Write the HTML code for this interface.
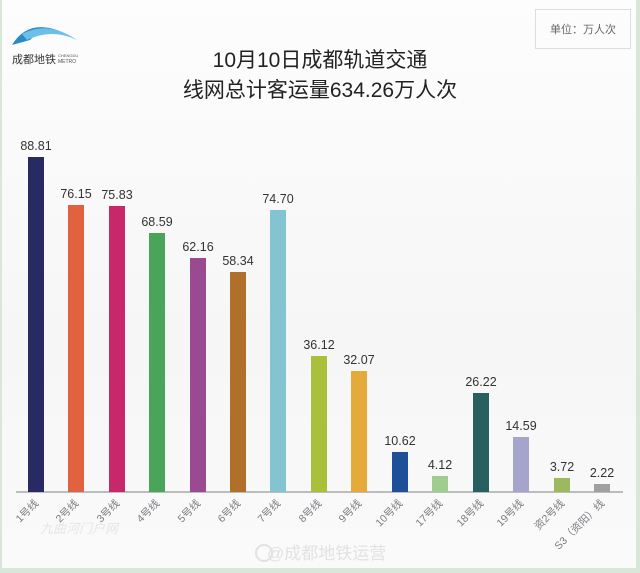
<!DOCTYPE html>
<html><head><meta charset="utf-8"><style>
body{margin:0;width:640px;height:573px;background:#d8e8d8;overflow:hidden}
#c{position:absolute;left:2px;top:0;width:634px;height:568px;background:linear-gradient(#fdfdfd,#f6f6f6 60%,#fafafa);font-family:"Liberation Sans","Noto Sans CJK SC",sans-serif}
</style></head><body><div id="c">
<svg width="634" height="568" xmlns="http://www.w3.org/2000/svg" font-family="Liberation Sans, Noto Sans CJK SC, sans-serif">
<path d="M10 45 Q30 12 75 40 Q45 22 28 40 Z" fill="#2a8ac8"/>
<path d="M20 34 Q45 20 75 40 Q50 28 25 40Z" fill="#6ac0e8"/>
<text x="10" y="63" font-size="11" fill="#333">成都地铁</text>
<text x="56" y="57" font-size="4" fill="#555">CHENGDU</text>
<text x="56" y="63" font-size="5" fill="#555">METRO</text>
<rect x="533.5" y="9.5" width="95" height="39" fill="none" stroke="#ddd"/>
<text x="581" y="33" font-size="11" fill="#666" text-anchor="middle">单位：万人次</text>
<text x="318" y="67" font-size="21" fill="#222" text-anchor="middle">10月10日成都轨道交通</text>
<text x="318" y="97" font-size="21" fill="#222" text-anchor="middle">线网总计客运量634.26万人次</text>
<line x1="14" y1="492" x2="621" y2="492" stroke="#999" stroke-width="1.2"/>
<g transform="translate(2,0)">
<rect x="24" y="157" width="16" height="335" fill="#272a63"/><text x="32" y="150" font-size="12.5" text-anchor="middle" fill="#333">88.81</text>
<rect x="64" y="205" width="16" height="287" fill="#e0623f"/><text x="72" y="198" font-size="12.5" text-anchor="middle" fill="#333">76.15</text>
<rect x="105" y="206" width="16" height="286" fill="#c7286a"/><text x="113" y="199" font-size="12.5" text-anchor="middle" fill="#333">75.83</text>
<rect x="145" y="233" width="16" height="259" fill="#4aa55a"/><text x="153" y="226" font-size="12.5" text-anchor="middle" fill="#333">68.59</text>
<rect x="186" y="258" width="16" height="234" fill="#9a4a90"/><text x="194" y="251" font-size="12.5" text-anchor="middle" fill="#333">62.16</text>
<rect x="226" y="272" width="16" height="220" fill="#b0702a"/><text x="234" y="265" font-size="12.5" text-anchor="middle" fill="#333">58.34</text>
<rect x="266" y="210" width="16" height="282" fill="#84c4d0"/><text x="274" y="203" font-size="12.5" text-anchor="middle" fill="#333">74.70</text>
<rect x="307" y="356" width="16" height="136" fill="#a8c03a"/><text x="315" y="349" font-size="12.5" text-anchor="middle" fill="#333">36.12</text>
<rect x="347" y="371" width="16" height="121" fill="#e4aa3a"/><text x="355" y="364" font-size="12.5" text-anchor="middle" fill="#333">32.07</text>
<rect x="388" y="452" width="16" height="40" fill="#1f4f98"/><text x="396" y="445" font-size="12.5" text-anchor="middle" fill="#333">10.62</text>
<rect x="428" y="476" width="16" height="16" fill="#a0cc90"/><text x="436" y="469" font-size="12.5" text-anchor="middle" fill="#333">4.12</text>
<rect x="469" y="393" width="16" height="99" fill="#286060"/><text x="477" y="386" font-size="12.5" text-anchor="middle" fill="#333">26.22</text>
<rect x="509" y="437" width="16" height="55" fill="#a4a4cc"/><text x="517" y="430" font-size="12.5" text-anchor="middle" fill="#333">14.59</text>
<rect x="550" y="478" width="16" height="14" fill="#9cb860"/><text x="558" y="471" font-size="12.5" text-anchor="middle" fill="#333">3.72</text>
<rect x="590" y="484" width="16" height="8" fill="#a0a0a0"/><text x="598" y="477" font-size="12.5" text-anchor="middle" fill="#333">2.22</text>
<g font-size="10.5" fill="#7a7a80" text-anchor="end">
<text transform="translate(35,504) rotate(-45)">1号线</text>
<text transform="translate(75,504) rotate(-45)">2号线</text>
<text transform="translate(116,504) rotate(-45)">3号线</text>
<text transform="translate(156,504) rotate(-45)">4号线</text>
<text transform="translate(197,504) rotate(-45)">5号线</text>
<text transform="translate(237,504) rotate(-45)">6号线</text>
<text transform="translate(277,504) rotate(-45)">7号线</text>
<text transform="translate(318,504) rotate(-45)">8号线</text>
<text transform="translate(358,504) rotate(-45)">9号线</text>
<text transform="translate(399,504) rotate(-45)">10号线</text>
<text transform="translate(439,504) rotate(-45)">17号线</text>
<text transform="translate(480,504) rotate(-45)">18号线</text>
<text transform="translate(520,504) rotate(-45)">19号线</text>
<text transform="translate(561,504) rotate(-45)">资2号线</text>
<text transform="translate(601,504) rotate(-45)">S3（资阳）线</text>
</g>
</g>
<text x="38" y="533" font-size="13" fill="#e6e6e6" font-style="italic">九曲河门户网</text>
<text x="265" y="559" font-size="17" fill="#e2e2e2">@成都地铁运营</text>
<circle cx="262" cy="553" r="8" fill="none" stroke="#e2e2e2" stroke-width="2"/>
</svg></div></body></html>
